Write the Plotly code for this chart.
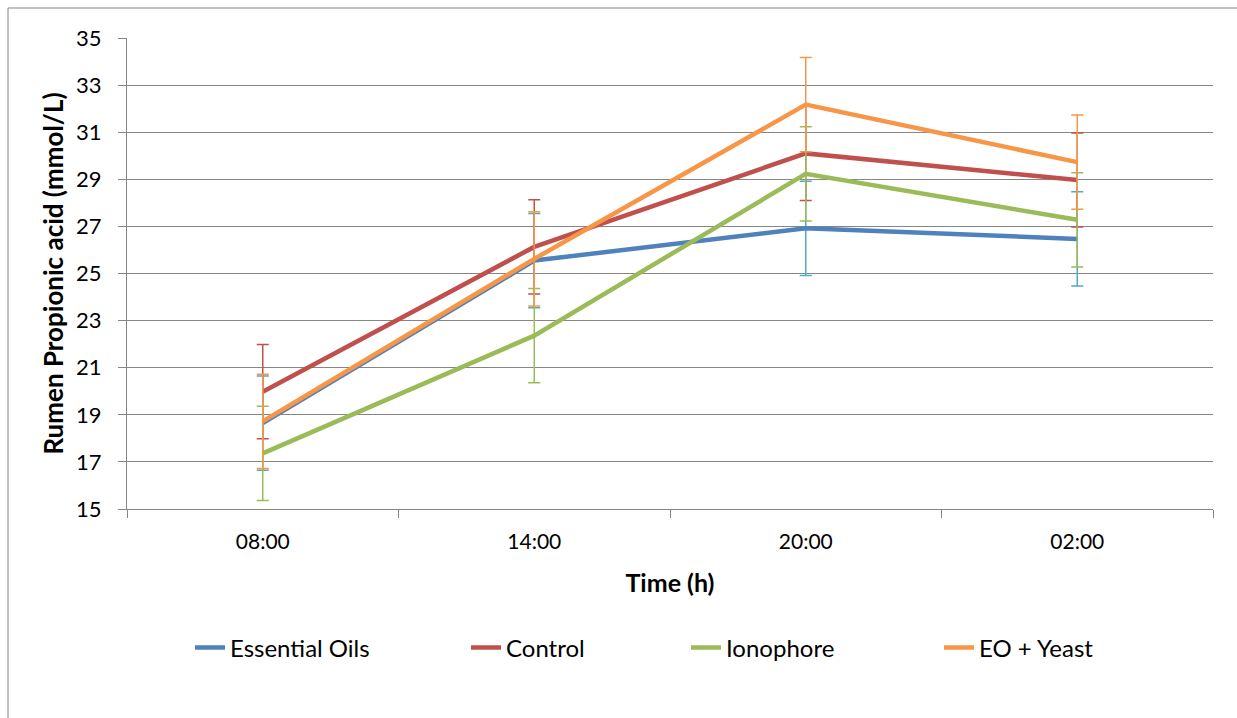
import plotly.graph_objects as go

times = ["08:00", "14:00", "20:00", "02:00"]
essential_oils = [18.65, 25.55, 26.92, 26.47]
control = [19.98, 26.13, 30.10, 28.97]
ionophore = [17.36, 22.36, 29.23, 27.28]
eo_yeast = [18.72, 25.62, 32.17, 29.73]
err_eo = [2, 2, 2, 2]
err_control = [2, 2, 2, 2]
err_iono = [2, 2, 2, 2]
err_eoy = [2, 2, 2, 2]
y_ticks = [15, 17, 19, 21, 23, 25, 27, 29, 31, 33, 35]

series = [
    ("Essential Oils", essential_oils, err_eo, "#4F81BD", "#4BACC6", 231),
    ("Control", control, err_control, "#C0504D", "#C0504D", 175),
    ("Ionophore", ionophore, err_iono, "#9BBB59", "#9BBB59", 208),
    ("EO + Yeast", eo_yeast, err_eoy, "#F79646", "#F79646", 125),
]

FONT = "Lato"
fig = go.Figure()
for name, vals, err, col, ecol, lw in series:
    fig.add_trace(go.Scatter(
        x=times, y=vals, name=name, mode="lines",
        line=dict(color=col, width=4.5),
        error_y=dict(type="data", array=err, visible=True, color=ecol,
                     thickness=1.5, width=6),
        legendwidth=lw,
    ))

W, H = 1237, 718
ml, mr, mt, mb = 127, 24, 38, 209
pw, ph = W - ml - mr, H - mt - mb

fig.update_layout(
    width=W, height=H,
    margin=dict(l=ml, r=mr, t=mt, b=mb),
    paper_bgcolor="white", plot_bgcolor="white",
    font=dict(family=FONT, size=21, color="black"),
    showlegend=True,
    legend=dict(orientation="h", x=(190 - ml) / pw, xanchor="left",
                y=-(648 - 509) / ph, yanchor="middle",
                font=dict(size=24, family=FONT),
                itemwidth=30, traceorder="normal"),
    xaxis=dict(
        type="category", range=[-0.5, 3.5], tickson="boundaries",
        ticks="outside", ticklen=8, tickcolor="#868686", tickwidth=1.3,
        showline=True, linecolor="#868686", linewidth=1.3, showgrid=False,
        tickfont=dict(size=21, family=FONT), ticklabelstandoff=14,
        title=dict(text="<b>Time (h)</b>", font=dict(size=25, family=FONT), standoff=22),
    ),
    yaxis=dict(
        range=[15, 35], tickvals=y_ticks,
        ticks="outside", ticklen=8, tickcolor="#868686", tickwidth=1.3,
        showline=True, linecolor="#868686", linewidth=1.3,
        showgrid=True, gridcolor="#868686", gridwidth=1.3, zeroline=False,
        tickfont=dict(size=22, family=FONT), ticklabelstandoff=12,
        title=dict(text="<b>Rumen Propionic acid (mmol/L)</b>", font=dict(size=26, family=FONT), standoff=4),
    ),
    shapes=[dict(type="rect", xref="paper", yref="paper",
                 x0=(8 - ml) / pw, x1=(W + 5 - ml) / pw,
                 y0=-(mb + 5) / ph, y1=(ph + mt - 8) / ph,
                 line=dict(color="#868686", width=1), layer="below")],
)

fig.write_html("out.html")
